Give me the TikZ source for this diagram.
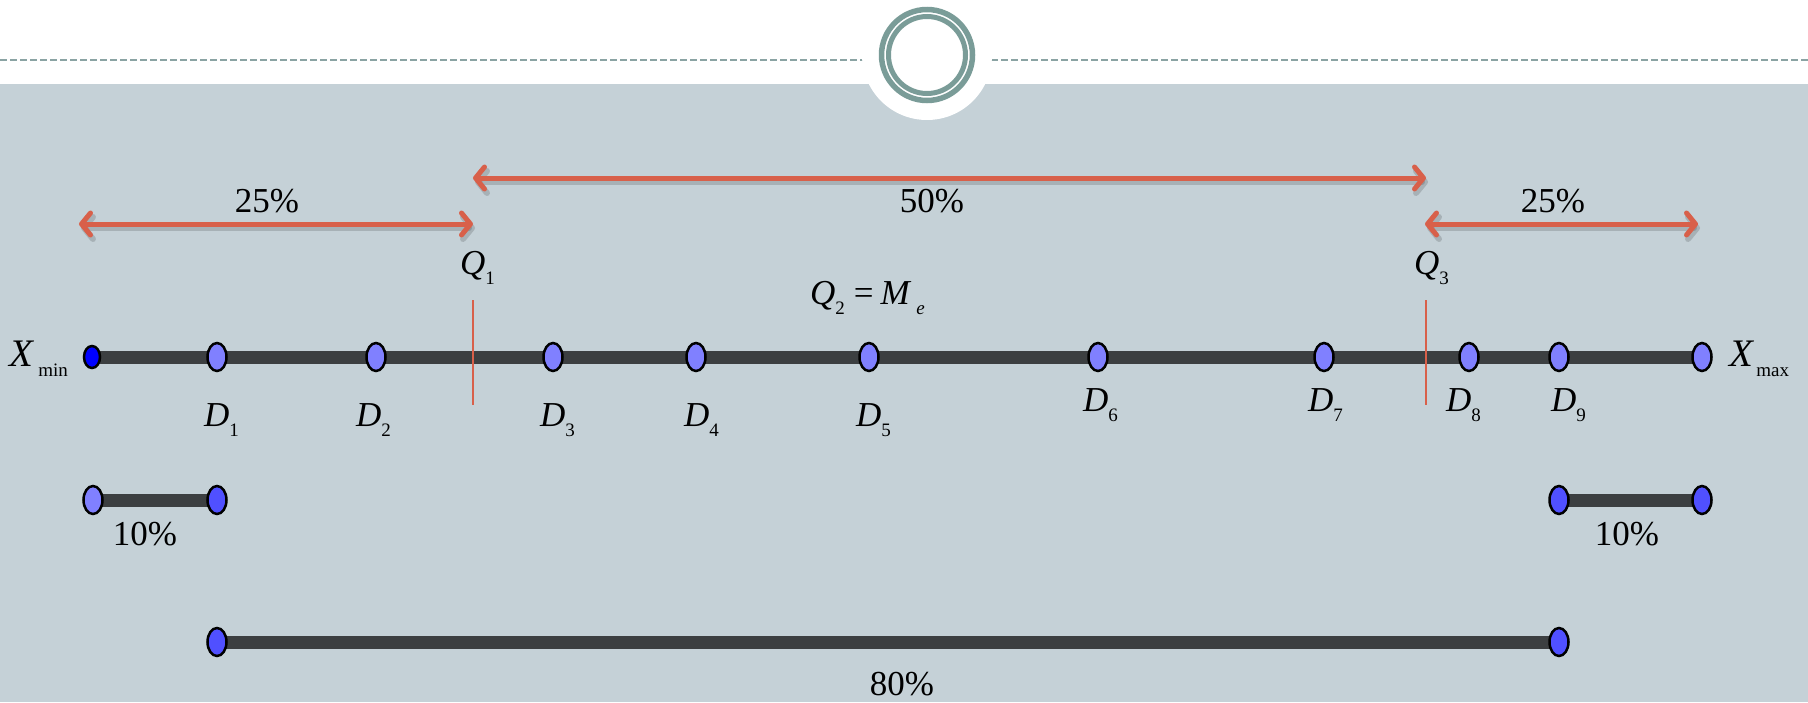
\documentclass[tikz,border=0pt]{standalone}
\usepackage{fontspec}
\setmainfont{Liberation Serif}
\usetikzlibrary{shapes.geometric,arrows.meta}
\definecolor{bgg}{HTML}{C5D1D7}
\definecolor{ringc}{HTML}{7A9C98}
\definecolor{dashc}{HTML}{8AA3A3}
\definecolor{barc}{HTML}{3C3F41}
\definecolor{arrc}{HTML}{D8604A}
\definecolor{dotl}{HTML}{8080FF}
\definecolor{dotd}{HTML}{5050FF}
\definecolor{dotb}{HTML}{0000FF}
\newcommand\lbl[3][0pt]{\textit{#2}\kern#1\raisebox{-10pt}{\fontsize{19}{19}\selectfont #3}}
\tikzset{
  dotnode/.style={ellipse, draw=black, line width=2.5pt, fill=dotl, minimum width=19pt, minimum height=28pt, inner sep=0pt},
  darkdot/.style={dotnode, fill=dotd},
  bluedot/.style={dotnode, fill=dotb, minimum width=16pt, minimum height=22pt},
  barline/.style={draw=barc, line width=13pt},
  dblarrow/.style={draw=arrc, line width=5pt, line cap=round,
    {Straight Barb[length=9pt,width=22pt,round]}-{Straight Barb[length=9pt,width=22pt,round]}},
  arrshadow/.style={draw=black, opacity=0.15, line width=6pt, line cap=round,
    {Straight Barb[length=9pt,width=22pt,round]}-{Straight Barb[length=9pt,width=22pt,round]},
    transform canvas={xshift=2pt,yshift=-4pt}},
  qline/.style={draw=arrc, line width=2pt},
  pct/.style={font=\fontsize{35}{40}\selectfont, anchor=base, inner sep=0pt},
  mlab/.style={font=\fontsize{35}{40}\selectfont, anchor=base west, inner sep=0pt},
}
\begin{document}
\begin{tikzpicture}[x=1pt,y=-1pt]
\useasboundingbox (0,0) rectangle (1808,702);
% header
\fill[white] (0,0) rectangle (1808,84);
\fill[bgg] (0,84) rectangle (1808,702);
\draw[dashc, line width=2pt, dash pattern=on 7pt off 3pt] (0,60) -- (863,60) (991,60) -- (1808,60);
\fill[white] (927,55) circle (65pt);
\draw[ringc, line width=5.5pt] (927,55) circle (45.5pt);
\draw[ringc, line width=5pt] (927,55) circle (38.5pt);

% coordinates of the main row
\coordinate (pmin) at (92,357);
\coordinate (p1) at (217,357);
\coordinate (p2) at (376,357);
\coordinate (p3) at (553,357);
\coordinate (p4) at (696,357);
\coordinate (p5) at (869,357);
\coordinate (p6) at (1098,357);
\coordinate (p7) at (1324,357);
\coordinate (p8) at (1469,357);
\coordinate (p9) at (1559,357);
\coordinate (pmax) at (1702,357);
\coordinate (l1) at (93,500);
\coordinate (l2) at (217,500);
\coordinate (r1) at (1559,500);
\coordinate (r2) at (1702,500);
\coordinate (b1) at (217,642);
\coordinate (b2) at (1559,642);

% bars
\draw[barline] (pmin) -- (pmax);
\draw[barline] (l1) -- (l2);
\draw[barline] (r1) -- (r2);
\draw[barline] (b1) -- (b2);

% quartile lines
\coordinate (q1top) at (473,300);
\coordinate (q1bot) at (473,405);
\coordinate (q3top) at (1426,300);
\coordinate (q3bot) at (1426,405);
\draw[qline] (q1top) -- (q1bot);
\draw[qline] (q3top) -- (q3bot);

% dots
\node[bluedot] (xmin) at (pmin) {};
\foreach \i in {1,...,9} {\node[dotnode] (d\i) at (p\i) {};}
\node[dotnode] (xmax) at (pmax) {};
\node[dotnode] (lo1) at (l1) {};
\node[darkdot] (lo2) at (l2) {};
\node[darkdot] (ro1) at (r1) {};
\node[darkdot] (ro2) at (r2) {};
\node[darkdot] (bo1) at (b1) {};
\node[darkdot] (bo2) at (b2) {};

% arrows
\coordinate (aL1) at (79,224);
\coordinate (aL2) at (473,224);
\coordinate (aM1) at (473,178);
\coordinate (aM2) at (1426,178);
\coordinate (aR1) at (1425,224);
\coordinate (aR2) at (1698,224);
\draw[arrshadow] (aL1) -- (aL2);
\draw[arrshadow] (aM1) -- (aM2);
\draw[arrshadow] (aR1) -- (aR2);
\draw[dblarrow] (aL1) -- (aL2);
\draw[dblarrow] (aM1) -- (aM2);
\draw[dblarrow] (aR1) -- (aR2);

% percentage labels
\node[pct] (t25l) at (267,212) {25\%};
\node[pct] (t50) at (932,212) {50\%};
\node[pct] (t25r) at (1553,212) {25\%};
\node[pct] (t10l) at (145,545) {10\%};
\node[pct] (t10r) at (1627,545) {10\%};
\node[pct] (t80) at (902,695) {80\%};

% math labels
\node[mlab, font=\fontsize{39}{44}\selectfont] (lxmin) at (9,366) {\lbl[4pt]{X}{min}};
\node[mlab, font=\fontsize{39}{44}\selectfont] (lxmax) at (1729,366) {\lbl[2pt]{X}{max}};
\node[mlab] (lq1) at (460,274) {\lbl{Q}{1}};
\node[mlab] (lq3) at (1414,274) {\lbl{Q}{3}};
\node[mlab] (lq2) at (810,304) {\lbl{Q}{2}\hspace{9pt}=\hspace{7pt}\lbl[5pt]{M}{\textit{e}}};
\node[mlab] (ld1) at (204,426) {\lbl{D}{1}};
\node[mlab] (ld2) at (356,426) {\lbl{D}{2}};
\node[mlab] (ld3) at (540,426) {\lbl{D}{3}};
\node[mlab] (ld4) at (684,426) {\lbl{D}{4}};
\node[mlab] (ld5) at (856,426) {\lbl{D}{5}};
\node[mlab] (ld6) at (1083,411) {\lbl{D}{6}};
\node[mlab] (ld7) at (1308,411) {\lbl{D}{7}};
\node[mlab] (ld8) at (1446,411) {\lbl{D}{8}};
\node[mlab] (ld9) at (1551,411) {\lbl{D}{9}};
\end{tikzpicture}
\end{document}
